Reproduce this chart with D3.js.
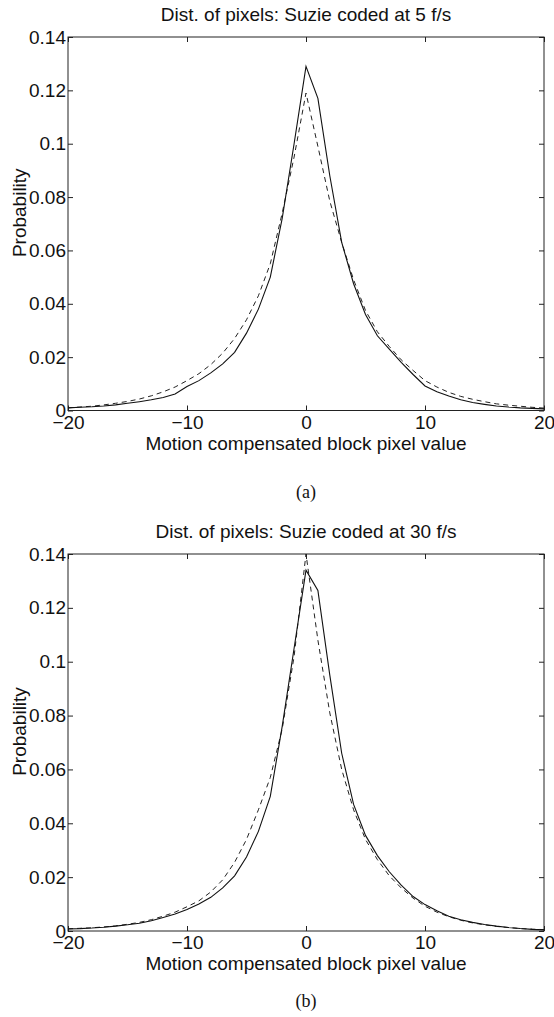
<!DOCTYPE html>
<html>
<head>
<meta charset="utf-8">
<script src="https://cdn.jsdelivr.net/npm/d3@7"></script>
<style>
  body { margin: 0; background: #fff; }
  svg { display: block; }
  .axis text { font-family: "Liberation Sans", Arial, sans-serif; font-size: 19px; fill: #111; }
  .axis line { stroke: #222; }
  .axis path { display: none; }
</style>
</head>
<body>
<script>
// pixel value bins
var pixelValues = [-20, -19, -18, -17, -16, -15, -14, -13, -12, -11, -10, -9, -8, -7, -6, -5, -4, -3, -2, -1,
  0, 1, 2, 3, 4, 5, 6, 7, 8, 9, 10, 11, 12, 13, 14, 15, 16, 17, 18, 19, 20];

// (a) Suzie at 5 f/s
var measured5 = [0.0010, 0.0012, 0.0014, 0.0017, 0.0021, 0.0027, 0.0033, 0.0040, 0.0049, 0.0062, 0.0090,
  0.0112, 0.0141, 0.0175, 0.0218, 0.0290, 0.0380, 0.0500, 0.0720, 0.1000, 0.1290, 0.1170, 0.0880, 0.0630,
  0.0475, 0.0360, 0.0280, 0.0230, 0.0180, 0.0135, 0.0092, 0.0070, 0.0054, 0.0040, 0.0030, 0.0023, 0.0017,
  0.0013, 0.0010, 0.0008, 0.0006];
var model5 = [0.0010, 0.0013, 0.0016, 0.0021, 0.0027, 0.0034, 0.0043, 0.0055, 0.0070, 0.0088, 0.0112,
  0.0138, 0.0172, 0.0215, 0.0270, 0.0340, 0.0430, 0.0550, 0.0740, 0.0950, 0.1190, 0.0990, 0.0785, 0.0630,
  0.0490, 0.0375, 0.0295, 0.0240, 0.0190, 0.0150, 0.0112, 0.0088, 0.0068, 0.0053, 0.0042, 0.0033, 0.0025,
  0.0020, 0.0016, 0.0012, 0.0009];

// (b) Suzie at 30 f/s
var measured30 = [0.0008, 0.0009, 0.0011, 0.0014, 0.0018, 0.0023, 0.0029, 0.0038, 0.0050, 0.0063, 0.0080,
  0.0100, 0.0125, 0.0160, 0.0205, 0.0275, 0.0370, 0.0500, 0.0760, 0.1050, 0.1340, 0.1265, 0.0950, 0.0660,
  0.0470, 0.0355, 0.0280, 0.0220, 0.0170, 0.0128, 0.0098, 0.0075, 0.0055, 0.0042, 0.0032, 0.0024, 0.0018,
  0.0013, 0.0009, 0.0006, 0.0004];
var model30 = [0.0008, 0.0010, 0.0012, 0.0015, 0.0019, 0.0025, 0.0032, 0.0042, 0.0055, 0.0070, 0.0090,
  0.0112, 0.0145, 0.0190, 0.0255, 0.0340, 0.0450, 0.0570, 0.0750, 0.1020, 0.1400, 0.1080, 0.0810, 0.0600,
  0.0450, 0.0340, 0.0265, 0.0205, 0.0160, 0.0122, 0.0092, 0.0070, 0.0053, 0.0040, 0.0030, 0.0023, 0.0017,
  0.0013, 0.0009, 0.0007, 0.0005];

var xTicks = [-20, -10, 0, 10, 20];
var xTickLabels = ["\u221220", "\u221210", "0", "10", "20"];
var yTicks = [0, 0.02, 0.04, 0.06, 0.08, 0.1, 0.12, 0.14];
var yTickLabels = ["0", "0.02", "0.04", "0.06", "0.08", "0.1", "0.12", "0.14"];

var titles = ["Dist. of pixels: Suzie coded at 5 f/s", "Dist. of pixels: Suzie coded at 30 f/s"];
var captions = ["(a)", "(b)"];
var xLabel = "Motion compensated block pixel value";
var yLabel = "Probability";

var outerWidth = 554,
  outerHeight = 1017;

var svg = d3.select("body").append("svg")
  .attr("width", outerWidth)
  .attr("height", outerHeight);

var panels = [
  {top: 37, bottom: 410.5, solid: measured5, dashed: model5, captionY: 498},
  {top: 554, bottom: 931, solid: measured30, dashed: model30, captionY: 1007}
];

var left = 68, right = 544;

panels.forEach(function(p, i) {
  var xScale = d3.scaleLinear().domain([-20, 20]).range([left, right]);
  var yScale = d3.scaleLinear().domain([0, 0.14]).range([p.bottom, p.top]);

  var g = svg.append("g");

  // box
  g.append("rect")
    .attr("x", left).attr("y", p.top)
    .attr("width", right - left).attr("height", p.bottom - p.top)
    .attr("fill", "none").attr("stroke", "#222").attr("stroke-width", 1);

  // ticks point inward on all four sides
  g.append("g")
    .attr("class", "axis")
    .attr("transform", "translate(0," + p.bottom + ")")
    .call(d3.axisBottom(xScale).tickValues(xTicks)
      .tickFormat(function(d, j) { return xTickLabels[j]; })
      .tickSizeInner(-5).tickSizeOuter(0).tickPadding(5));

  g.append("g")
    .attr("class", "axis")
    .attr("transform", "translate(0," + p.top + ")")
    .call(d3.axisTop(xScale).tickValues(xTicks).tickFormat("")
      .tickSizeInner(-5).tickSizeOuter(0));

  g.append("g")
    .attr("class", "axis")
    .attr("transform", "translate(" + left + ",0)")
    .call(d3.axisLeft(yScale).tickValues(yTicks)
      .tickFormat(function(d, j) { return yTickLabels[j]; })
      .tickSizeInner(-5).tickSizeOuter(0).tickPadding(2));

  g.append("g")
    .attr("class", "axis")
    .attr("transform", "translate(" + right + ",0)")
    .call(d3.axisRight(yScale).tickValues(yTicks).tickFormat("")
      .tickSizeInner(-5).tickSizeOuter(0));

  var line = d3.line()
    .x(function(d, j) { return xScale(pixelValues[j]); })
    .y(function(d) { return yScale(d); });

  g.append("path")
    .datum(p.dashed)
    .attr("d", line)
    .attr("fill", "none")
    .attr("stroke", "#222")
    .attr("stroke-width", 1)
    .attr("stroke-dasharray", "5,4");

  g.append("path")
    .datum(p.solid)
    .attr("d", line)
    .attr("fill", "none")
    .attr("stroke", "#111")
    .attr("stroke-width", 1.1);

  // titles and labels
  g.append("text")
    .attr("x", (left + right) / 2)
    .attr("y", p.top - 16)
    .attr("text-anchor", "middle")
    .style("font-family", "Liberation Sans, Arial, sans-serif")
    .style("font-size", "19px")
    .attr("fill", "#111")
    .text(titles[i]);

  g.append("text")
    .attr("x", (left + right) / 2)
    .attr("y", p.bottom + 39)
    .attr("text-anchor", "middle")
    .style("font-family", "Liberation Sans, Arial, sans-serif")
    .style("font-size", "19px")
    .attr("fill", "#111")
    .text(xLabel);

  g.append("text")
    .attr("transform", "translate(26," + ((p.top + p.bottom) / 2 - 11) + ") rotate(-90)")
    .attr("text-anchor", "middle")
    .style("font-family", "Liberation Sans, Arial, sans-serif")
    .style("font-size", "19px")
    .attr("fill", "#111")
    .text(yLabel);

  g.append("text")
    .attr("x", (left + right) / 2)
    .attr("y", p.captionY)
    .attr("text-anchor", "middle")
    .style("font-family", "Liberation Serif, Times New Roman, serif")
    .style("font-size", "18px")
    .attr("fill", "#111")
    .text(captions[i]);
});
</script>
</body>
</html>
